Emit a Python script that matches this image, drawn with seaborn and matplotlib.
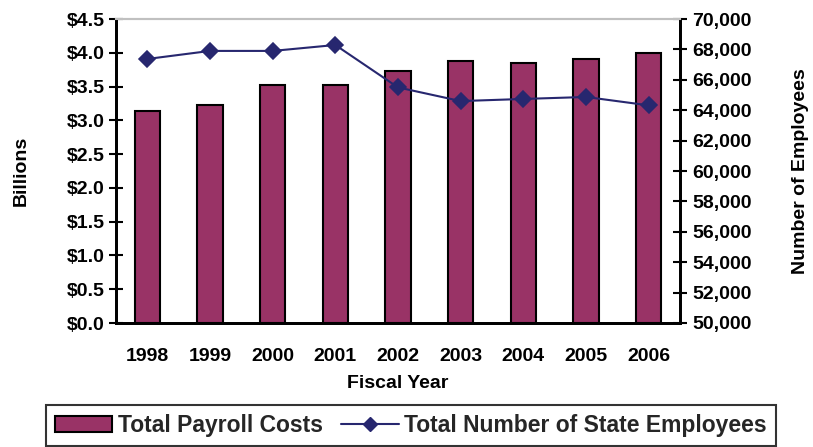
import matplotlib
matplotlib.use("Agg")
import matplotlib.pyplot as plt
from matplotlib.ticker import FuncFormatter, FixedLocator
import seaborn as sns
import pandas as pd
from matplotlib.lines import Line2D
from matplotlib.patches import Patch

years = ["1998", "1999", "2000", "2001", "2002", "2003", "2004", "2005", "2006"]
payroll_billions = [3.14, 3.23, 3.52, 3.52, 3.73, 3.88, 3.85, 3.91, 4.00]
employees = [67370, 67900, 67900, 68290, 65500, 64600, 64740, 64870, 64320]

bar_color = "#993366"
line_color = "#27276f"

sns.set_theme(style="white")
plt.rcParams["font.family"] = ["Liberation Sans", "DejaVu Sans"]
plt.rcParams["font.weight"] = "bold"

FS = 14

df = pd.DataFrame({"year": years, "payroll": payroll_billions, "employees": employees})

fig = plt.figure(figsize=(8.13, 4.47), dpi=100)
ax = fig.add_axes([116 / 813, 1 - 323 / 447, (680 - 116) / 813, (323 - 19) / 447])

sns.barplot(data=df, x="year", y="payroll", order=years, color=bar_color,
            width=0.4, edgecolor="black", linewidth=1.5, saturation=1, ax=ax)

ax2 = ax.twinx()
sns.pointplot(data=df, x="year", y="employees", order=years, color=line_color,
              markers="D", linestyles="-", errorbar=None, ax=ax2,
              markersize=8, linewidth=1.5)

for a in (ax, ax2):
    a.set_xlim(-0.5, len(years) - 0.5)
    a.grid(False)

ax.set_ylim(0, 4.5)
ax.set_yticks([i * 0.5 for i in range(10)])
ax.yaxis.set_major_formatter(FuncFormatter(lambda v, p: f"${v:.1f}"))
ax2.set_ylim(50000, 70000)
ax2.set_yticks(range(50000, 70001, 2000))
ax2.yaxis.set_major_formatter(FuncFormatter(lambda v, p: f"{int(v):,}"))

# category boundaries carry the x tick marks
ax.xaxis.set_minor_locator(FixedLocator([i - 0.5 for i in range(len(years) + 1)]))
ax.tick_params(axis="x", which="major", length=0, pad=18, labelsize=FS)
ax.tick_params(axis="x", which="minor", direction="inout", length=10, width=1.5, color="black")
ax.tick_params(axis="y", direction="inout", length=10, width=1.5, color="black",
               labelsize=FS, pad=3, left=True)
ax2.tick_params(axis="y", direction="inout", length=10, width=1.5, color="black",
                labelsize=FS, pad=4, right=True)
for lab in ax.get_xticklabels() + ax.get_yticklabels() + ax2.get_yticklabels():
    lab.set_fontweight("bold")
    lab.set_color("black")

for a in (ax, ax2):
    for side in ("left", "bottom", "right"):
        a.spines[side].set_color("black")
        a.spines[side].set_linewidth(2)
    a.spines["top"].set_color("#c0c0c0")
    a.spines["top"].set_linewidth(1.5)

ax.set_xlabel("Fiscal Year", fontsize=FS, fontweight="bold", labelpad=7, color="black")
ax.set_ylabel("Billions", fontsize=FS, fontweight="bold", labelpad=27, color="black")
ax2.set_ylabel("Number of Employees", fontsize=FS, fontweight="bold", labelpad=29, color="black")

handles = [
    Patch(facecolor=bar_color, edgecolor="black", linewidth=1.5),
    Line2D([0], [0], color=line_color, marker="D", markersize=7, linewidth=1.5),
]
leg = fig.legend(handles, ["Total Payroll Costs", "Total Number of State Employees"],
                 loc="upper center", bbox_to_anchor=(411 / 813, 1 - 405 / 447),
                 ncol=2, frameon=True, fancybox=False,
                 prop={"weight": "bold", "size": 16.5},
                 handlelength=2.5, handletextpad=0.25, columnspacing=0.8,
                 borderpad=0.4, borderaxespad=0)
leg.get_frame().set_edgecolor("black")
leg.get_frame().set_linewidth(1.5)

fig.savefig("out.png", dpi=100)
